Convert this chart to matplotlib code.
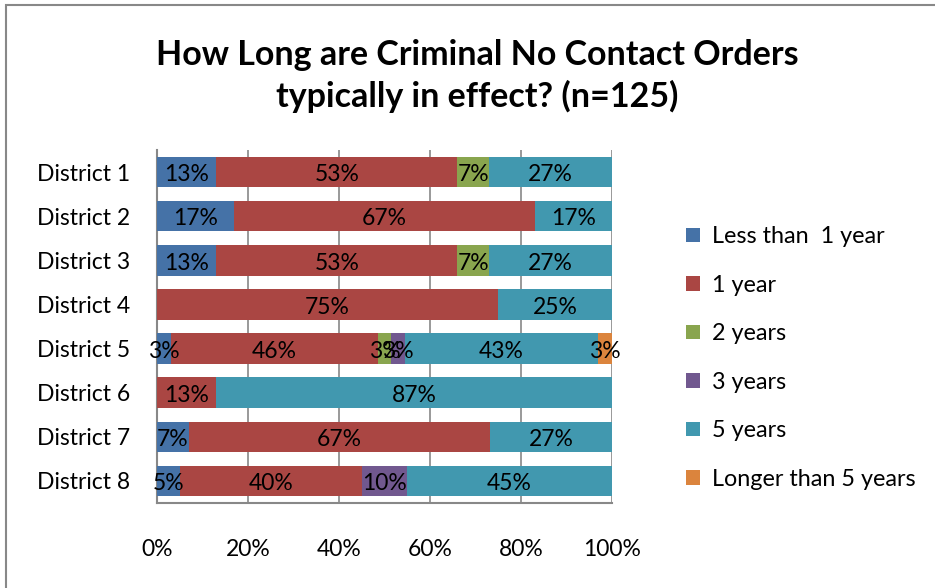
import numpy as np
import matplotlib.pyplot as plt
from matplotlib.patches import Rectangle

plt.rcParams['font.family'] = ['Lato', 'DejaVu Sans']

districts = ['District 1', 'District 2', 'District 3', 'District 4',
             'District 5', 'District 6', 'District 7', 'District 8']
series = ['Less than  1 year', '1 year', '2 years', '3 years', '5 years',
          'Longer than 5 years']
colors = ['#4572A7', '#AA4643', '#89A54E', '#71588F', '#4198AF', '#DB843D']

# percentages as printed on the chart (rounded, rows may add to 101)
less_1yr = [13, 17, 13, 0, 3, 0, 7, 5]
one_yr = [53, 67, 53, 75, 46, 13, 67, 40]
two_yr = [7, 0, 7, 0, 3, 0, 0, 0]
three_yr = [0, 0, 0, 0, 3, 0, 0, 10]
five_yr = [27, 17, 27, 25, 43, 87, 27, 45]
over_5yr = [0, 0, 0, 0, 3, 0, 0, 0]

vals = np.array([less_1yr, one_yr, two_yr, three_yr, five_yr, over_5yr], dtype=float)
shares = vals / vals.sum(axis=0) * 100  # 100% stacked

fig = plt.figure(figsize=(9.35, 5.88), dpi=100)
ax = fig.add_axes([157/935, 1-503/588, 455/935, 353/588])

y = np.arange(len(districts))
left = np.zeros(len(districts))
for i in range(len(series)):
    bars = ax.barh(y, shares[i], left=left, height=0.69, color=colors[i],
                   label=series[i], zorder=3)
    labels = [f'{int(v)}%' if v > 0 else '' for v in vals[i]]
    anns = ax.bar_label(bars, labels=labels, label_type='center', fontsize=16.5,
                        color='black', zorder=4)
    for a in anns:
        a.xyann = (0, -2)  # sit a touch lower, like the original
    left += shares[i]

ax.set_xlim(0, 100)
ax.set_ylim(len(districts) - 0.5, -0.5)
ax.set_yticks(y)
ax.set_yticklabels(districts, fontsize=16.5)
ax.set_xticks(np.arange(0, 101, 20))
ax.set_xticklabels([f'{t}%' for t in range(0, 101, 20)], fontsize=16.5)
ax.tick_params(axis='both', length=0)
ax.tick_params(axis='y', pad=19)
ax.tick_params(axis='x', pad=26)
ax.grid(axis='x', color='#888888', linewidth=1.2, zorder=0)
for s in ['top', 'right']:
    ax.spines[s].set_visible(False)
for s in ['left', 'bottom']:
    ax.spines[s].set_color('#888888')
    ax.spines[s].set_linewidth(1.5)

fig.legend(loc='center left', bbox_to_anchor=(665/935, 1-358/588),
           frameon=False, fontsize=16.8, handlelength=0.6, handleheight=0.6,
           handletextpad=0.5, labelspacing=1.18)

fig.text(477/935, 1-76/588,
         'How Long are Criminal No Contact Orders\ntypically in effect? (n=125)',
         ha='center', va='center', fontsize=24.5, fontweight='bold', linespacing=1.35)

fig.patches.append(Rectangle((6/935, -0.05), 1.0, 1.05 - 5/588,
                             transform=fig.transFigure, fill=False,
                             edgecolor='#888888', linewidth=1.5))

fig.savefig('out.png', dpi=100)
